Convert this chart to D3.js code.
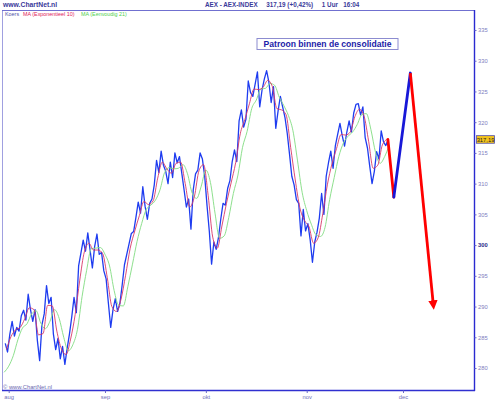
<!DOCTYPE html>
<html><head><meta charset="utf-8">
<script src="https://cdn.jsdelivr.net/npm/d3@7"></script>
<style>
html,body{margin:0;padding:0;background:#fff;}
svg{display:block;font-family:"Liberation Sans",Arial,sans-serif;}
</style></head>
<body>
<svg id="c" width="500" height="400"></svg>
<script>
// ---- data (x = trading-day index, 0 = first trading day of August) ----
const monthLabels = ["aug","sep","okt","nov","dec"];
const monthStartIdx = [0, 21, 43, 65, 86];
const yTicks = [280,285,290,295,300,305,310,315,320,325,330,335];

// Koers (hourly price), two readings per trading day, starting at day -1
const koersStart = -1;
const koers = [
284,282.6, 285.5,287.6, 285.2,286.6, 286,288.5, 289.4,287.8, 292,289.5, 287.6,289.5, 284.5,281.2,
287,288.8, 293.4,290.5, 291.5,285.5, 283,284.8, 281.5,283.5, 280.6,283.2, 285.5,288.3, 291.5,289.0,
296.6,298.7, 300.8,299.0, 302.0,299.2, 296.3,299.8, 301.8,298.5, 298.8,295.8, 294.5,290.5, 286.6,289.5,
291.3,289.2, 290.5,293.5, 296.8,298.5, 300.2,301.9, 302.2,304.5, 307,305.2, 309.5,306.3, 304.2,306.8,
307.5,309.8, 313.8,311.8, 315.3,313, 312.0,310.0, 313.5,311, 315.0,313.4, 314.4,311.7, 309.0,306.2,
307.5,302.6, 309,311.6, 312.2,315.0, 314,311.2, 306.5,302.3, 296.9,300.5, 299.3,301.2, 304.2,306.8,
306.5,309.2, 310.5,313.6, 315.5,313.6, 320.2,322.0, 319.2,320.5, 326.7,324.8, 324.2,326.2, 328.2,322.5,
325.2,327, 328.4,326.5, 323.2,325.8, 319,321.8, 324.2,322.5, 320.8,318.2, 314.8,311.2, 309.8,307.4,
306.8,301.5, 305.8,302.3, 303.5,300.9, 297.2,300.5, 302.1,304.4, 308.4,305, 311.2,313.4, 315.3,312.5,
316.2,318.0, 319.8,317.8, 316.1,318.4, 320.2,318.4, 321.5,322.9, 323.0,321.2, 322.5,317.5, 315.8,312.8,
310.0,312.0, 315.2,314.0, 318.6,316.8, 316.2,317.19
];
// MA (Exponentieel 10), one reading per day, starting at day -1 (mid-day)
const emaStart = -0.5;
const ema10 = [
283.0,285.1,286.2,286.6,288.0,289.8,289.5,285.4,285.6,290.2,290.1,286.0,283.1,282.2,284.7,288.7,
294.3,298.9,300.3,299.2,299.2,298.6,294.7,290.0,289.2,291.2,295.1,299.5,302.3,304.8,307.1,306.6,
307.2,310.9,313.5,312.4,311.7,313.3,313.5,310.0,306.2,307.9,312.1,313.1,308.1,301.3,299.5,303.1,
306.8,310.1,313.4,318.1,320.4,323.0,325.4,325.3,325.7,326.8,325.8,322.2,322.0,321.2,315.9,310.6,
306.1,304.0,303.0,300.3,301.2,305.1,309.8,313.2,315.7,318.0,317.9,318.4,320.9,322.1,321.0,316.9,
312.5,313.0,316.3,317.2
];
// MA (Eenvoudig 21), one reading per day, starting at day -1
const smaStart = -1;
const sma21 = [
279.3,280.3,282.0,284.6,286.5,287.2,288.8,289.3,287.3,286.4,287.6,289.5,288.1,285.0,282.8,283.8,
286.3,291.6,295.9,299.4,299.5,299.6,298.5,296.6,292.6,290.2,290.1,293.3,296.9,300.6,303.5,305.8,
306.5,307.3,309.0,311.8,312.6,312.4,312.5,313.1,311.6,308.5,307.6,309.6,312.2,310.2,305.2,301.1,
301.5,304.5,308.4,311.4,315.9,318.5,322.2,323.6,325.4,325.5,326.3,326.0,324.1,322.7,321.1,318.6,
313.7,308.6,305.6,303.4,301.7,301.4,302.9,307.4,311.0,314.4,316.6,317.7,318.4,319.6,321.2,321.4,
318.8,315.1,313.3,314.4,316.3
];
// Drawn pattern (projection)
const patternIdx = [82.7, 84.0, 87.6, 92.6];
const patternVal = [317.2, 307.8, 328.0, 290.4];
const patternColors = ["#ff0000","#1818d8","#ff0000"];
const lastPrice = 317.19;
const lastPriceLabel = "317,19";
const headerLeft = "www.ChartNet.nl";
const headerTitle = "AEX - AEX-INDEX     317,19 (+0,42%)     1 Uur   16:04";
const legendItems = ["Koers","MA (Exponentieel 10)","MA (Eenvoudig 21)"];
const noteText = "Patroon binnen de consolidatie";
const copyright = "© www.ChartNet.nl";

// ---- scales ----
const svg = d3.select("#c");
const L = 2, R = 474, T = 10, B = 390;
const x = d3.scaleLinear().domain([0, 86]).range([8.7, 403]);
const y = d3.scaleLinear().domain([280, 335]).range([368, 30]);

// header
svg.append("text").attr("x",3).attr("y",6.5).attr("font-size",6.8).attr("font-weight","bold")
  .attr("fill","#3a3a9a").text(headerLeft);
svg.append("text").attr("x",205).attr("y",6.5).attr("font-size",6.3).attr("font-weight","bold")
  .attr("fill","#3a3a9a").attr("xml:space","preserve").style("white-space","pre").text(headerTitle);

// frame
svg.append("line").attr("x1",L+0.5).attr("x2",L+0.5).attr("y1",T).attr("y2",B).attr("stroke","#a0a0e0").attr("stroke-width",1);
svg.append("line").attr("x1",L).attr("x2",R).attr("y1",T+0.5).attr("y2",T+0.5).attr("stroke","#7070d0").attr("stroke-width",1);
svg.append("line").attr("x1",L).attr("x2",R+1).attr("y1",B+0.5).attr("y2",B+0.5).attr("stroke","#3030d0").attr("stroke-width",1.3);
svg.append("line").attr("x1",R+0.5).attr("x2",R+0.5).attr("y1",T).attr("y2",B+1).attr("stroke","#2a2ad0").attr("stroke-width",1.4);

// legend
const legColors = ["#5050a8","#e0205a","#50d050"];
const legX = [5, 23, 81];
legendItems.forEach((t,i)=>{
  svg.append("text").attr("x",legX[i]).attr("y",15.5).attr("font-size",5.4)
    .attr("fill",legColors[i]).text(t);
});

// y axis (right)
const yAxis = d3.axisRight(y).tickValues(yTicks).tickSize(2).tickPadding(1.5).tickFormat(d3.format("d"));
const ya = svg.append("g").attr("transform",`translate(${R+0.5},0)`).call(yAxis);
ya.select(".domain").remove();
ya.selectAll(".tick line").attr("stroke","#6a6ac8");
ya.selectAll(".tick text").attr("font-size",5.8).attr("fill","#8080c0").attr("font-family","Liberation Sans, Arial, sans-serif");
ya.selectAll(".tick text").filter(d=>d===300).attr("fill","#2a2a8a").attr("font-weight","bold");

// x axis
const xAxis = d3.axisBottom(x).tickValues(monthStartIdx).tickSize(2.5).tickPadding(2)
  .tickFormat((d,i)=>monthLabels[i]);
const xa = svg.append("g").attr("transform",`translate(0,${B+0.5})`).call(xAxis);
xa.select(".domain").remove();
xa.selectAll(".tick line").attr("stroke","#6a6ac8");
xa.selectAll(".tick text").attr("font-size",5.8).attr("fill","#7070b8").attr("font-family","Liberation Sans, Arial, sans-serif");

// copyright
svg.append("text").attr("x",3).attr("y",388.5).attr("font-size",5.8).attr("fill","#6868b0").text(copyright);

// series
const koersPts = koers.map((v,k)=>[koersStart + 0.25 + k*0.5, v]);
const emaPts = ema10.map((v,k)=>[emaStart + k, v]);
const smaPts = sma21.map((v,k)=>[smaStart + k, v]);
const line = d3.line().x(d=>x(d[0])).y(d=>y(d[1]));
const smooth = d3.line().x(d=>x(d[0])).y(d=>y(d[1])).curve(d3.curveMonotoneX);

svg.append("path").datum(koersPts).attr("d",line).attr("fill","none")
  .attr("stroke","#1e3cf0").attr("stroke-width",1.3).attr("stroke-linejoin","round");
svg.append("path").datum(smaPts).attr("d",smooth).attr("fill","none")
  .attr("stroke","#8ee08e").attr("stroke-width",1);
svg.append("path").datum(emaPts).attr("d",smooth).attr("fill","none")
  .attr("stroke","#d83868").attr("stroke-width",0.9);

// pattern arrows
const defs = svg.append("defs");
defs.append("marker").attr("id","ah").attr("viewBox","0 0 10 10").attr("refX",4).attr("refY",5)
  .attr("markerWidth",3.4).attr("markerHeight",3.8).attr("orient","auto").attr("markerUnits","strokeWidth")
  .append("path").attr("d","M0,0 L10,5 L0,10 Z").attr("fill","#ff0000");
for (let i=0;i<patternIdx.length-1;i++){
  const seg = svg.append("line")
    .attr("x1",x(patternIdx[i])).attr("y1",y(patternVal[i]))
    .attr("x2",x(patternIdx[i+1])).attr("y2",y(patternVal[i+1]))
    .attr("stroke",patternColors[i]).attr("stroke-width",2.8).attr("stroke-linecap","round");
  if (i===patternIdx.length-2) seg.attr("marker-end","url(#ah)").attr("stroke-linecap","butt");
}

// note box
const note = svg.append("g");
note.append("rect").attr("x",257).attr("y",38.5).attr("width",141).attr("height",11)
  .attr("fill","#fff").attr("stroke","#8c8cd0").attr("stroke-width",1);
note.append("text").attr("x",327.5).attr("y",47).attr("text-anchor","middle").attr("font-size",8.6)
  .attr("font-weight","bold").attr("fill","#1c1ca8").text(noteText);

// last price label
const py = y(lastPrice);
svg.append("rect").attr("x",476.5).attr("y",py-3.8).attr("width",18).attr("height",7.6)
  .attr("fill","#f2c21c").attr("stroke","#5050b0").attr("stroke-width",0.8);
svg.append("text").attr("x",485.5).attr("y",py+2.2).attr("text-anchor","middle").attr("font-size",5.8)
  .attr("fill","#202020").text(lastPriceLabel);
</script>
</body></html>
